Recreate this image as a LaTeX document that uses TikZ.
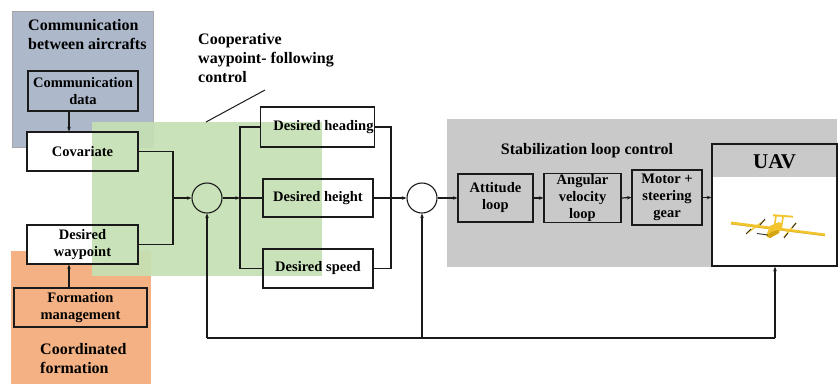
\documentclass[tikz,border=0pt]{standalone}
\usepackage{fontspec}
\setmainfont{Liberation Serif}[BoldFont={Liberation Serif Bold}]
\usetikzlibrary{arrows.meta}
\definecolor{commblue}{HTML}{ADB8CA}
\definecolor{formorange}{HTML}{F4B183}
\definecolor{coopgreen}{HTML}{C5E0B4}
\definecolor{stabgray}{HTML}{C9C9C9}
\definecolor{planeyellow}{HTML}{F2C52E}
\definecolor{planedark}{HTML}{D4A514}
\definecolor{linegray}{HTML}{1A1A1A}
\pgfdeclarelayer{bg}
\pgfdeclarelayer{fills}
\pgfdeclarelayer{overlay}
\pgfsetlayers{bg,fills,overlay,main}
\tikzset{
  box/.style={draw=linegray, line width=1.1pt, inner sep=1pt, align=center,
    font=\rmfamily\bfseries\fontsize{14.5}{17}\selectfont},
  title/.style={inner sep=0pt, align=left, font=\rmfamily\bfseries\fontsize{16}{19}\selectfont},
  sumpt/.style={draw=linegray, line width=1.1pt, circle, minimum size=30pt, inner sep=0pt},
  wire/.style={draw=linegray, line width=1.2pt},
  arr/.style={wire, -{Stealth[length=4.5pt,width=3.5pt]}},
}
\begin{document}
\begin{tikzpicture}[x=1pt,y=-1pt]
\useasboundingbox (0,0) rectangle (840,384);

% coloured group panels
\begin{pgfonlayer}{bg}
  \fill[commblue] (12,11) rectangle (153,147);
  \draw[gray!70, line width=0.6pt] (12,11) rectangle (153,147);
  \fill[formorange] (11,251) rectangle (151,384);
  \fill[stabgray] (447,119) rectangle (837,267);
\end{pgfonlayer}

% group titles
\node[title, anchor=north west] (tcomm) at (28,19) {Communication\\between aircrafts};
\node[title, anchor=north west] (tcoop) at (198,33) {Cooperative\\waypoint- following\\control};
\node[title, anchor=north west] (tform) at (40,343) {Coordinated\\formation};
\node[title, anchor=center] (tstab) at (587,151) {Stabilization loop control};

% blocks
\node[box, minimum width=110pt, minimum height=40pt] (cdata) at (83,91) {Communication\\data};
\node[box, minimum width=111pt, minimum height=39pt] (cov) at (82.5,151.5) {Covariate};
\node[box, minimum width=111pt, minimum height=39pt] (wp) at (82.5,244.5) {Desired\\waypoint};
\node[box, minimum width=133pt, minimum height=39pt] (fm) at (80.5,307.5) {Formation\\management};

\node[sumpt] (s1) at (207,198) {};
\node[box, minimum width=111pt, minimum height=40pt] (hd) at (317.5,127) {\hspace*{12pt}Desired heading};
\node[box, minimum width=110pt, minimum height=38pt] (ht) at (318,198) {Desired height};
\node[box, minimum width=110pt, minimum height=39pt] (sp) at (318,268.5) {Desired speed};
\node[sumpt] (s2) at (422,198) {};

\node[box, minimum width=75pt, minimum height=48pt] (att) at (495.5,198) {Attitude\\loop};
\node[box, minimum width=77pt, minimum height=48pt] (ang) at (582.5,198) {Angular\\velocity\\loop};
\node[box, minimum width=70pt, minimum height=55pt] (mot) at (667,197.5) {Motor +\\steering\\gear};
\node[draw=linegray, line width=1.4pt, minimum width=125pt, minimum height=122pt, inner sep=0pt] (uav) at (774.5,205) {};
\node[inner sep=0pt, font=\rmfamily\bfseries\fontsize{21}{24}\selectfont] (uavt) at (774.5,162) {UAV};

% white block interiors beneath the translucent panel
\begin{pgfonlayer}{fills}
  \foreach \n in {cov,wp,hd,ht,sp}
    \fill[white] (\n.south west) rectangle (\n.north east);
  \fill[white] (712,177) rectangle (837,266);
\end{pgfonlayer}

% translucent cooperative-control panel
\begin{pgfonlayer}{overlay}
  \fill[coopgreen, opacity=0.92] (92,122) rectangle (322,276);
\end{pgfonlayer}

% pointer to the cooperative panel
\coordinate (ptr) at (265,90);
\coordinate (ptrend) at (206,122);
\draw[wire, line width=1pt] (ptr) -- (ptrend);

% inputs of the first summing junction
\draw[arr] (cdata.south -| 69,0) -- (cov.north -| 69,0);
\draw[arr] (fm.north -| 69,0) -- (wp.south -| 69,0);
\coordinate (jin) at (173,198);
\draw[wire] (cov.east) -| (jin);
\draw[wire] (wp.east) -| (jin);
\draw[arr] (jin) -- (s1.west);

% fan-out to the desired references
\coordinate (jout) at (240,198);
\draw[arr] (s1.east) -- (jout);
\draw[wire] (hd.west) -| (jout) |- (sp.west);
\draw[wire] (jout) -- (ht.west);

% fan-in to the second summing junction
\coordinate (jback) at (391,198);
\draw[wire] (hd.east) -| (jback) |- (sp.east);
\draw[arr] (ht.east) -- (s2.west);

% stabilization chain
\draw[arr] (s2.east) -- (att.west);
\draw[arr] (att.east) -- (ang.west);
\draw[arr] (ang.east) -- (mot.west);
\draw[arr] (mot.east) -- (uav.west |- mot.east);

% feedback path
\coordinate (fb1) at (207,338);
\coordinate (fb2) at (422,338);
\coordinate (fb3) at (775,338);
\draw[wire] (fb1) -- (fb3);
\draw[arr] (fb1) -- (s1.south);
\draw[arr] (fb2) -- (s2.south);
\draw[arr] (fb3) -- (uav.south -| fb3);

% the aircraft
\begin{scope}[line join=round]
  % main wing
  \fill[planeyellow] (731,221.5) -- (825,233.5) -- (825,236) -- (731,224.2) -- cycle;
  \draw[planedark, line width=0.4pt] (731,224.2) -- (825,236);
  % twin tail booms
  \draw[planeyellow, line width=1.6pt] (776,216) -- (774,229);
  \draw[planeyellow, line width=1.6pt] (783,217) -- (781,230);
  % horizontal stabiliser
  \fill[planeyellow] (773,214.2) -- (793,215.8) -- (793,217.6) -- (773,216.2) -- cycle;
  % fuselage
  \fill[planeyellow] (766,236) -- (770,226) -- (779,222) -- (782,224) -- (779,233) -- (770,238) -- cycle;
  \fill[planedark] (767,236) -- (771,232) -- (778,230) -- (779,233) -- (770,238) -- cycle;
  % rotor booms
  \draw[planeyellow, line width=1.4pt] (747,233) -- (765,220);
  \draw[planeyellow, line width=1.4pt] (784,237) -- (796,223);
  % rotors and pusher propeller
  \draw[black!80, line width=0.9pt] (746,234) -- (751,229);
  \draw[black!80, line width=0.9pt] (760,225) -- (765,219);
  \draw[black!80, line width=0.9pt] (784,238) -- (788,233);
  \draw[black!80, line width=0.9pt] (792,228) -- (796,223);
  \draw[black!80, line width=0.9pt] (757,233.5) -- (768,235);
\end{scope}
\end{tikzpicture}
\end{document}
